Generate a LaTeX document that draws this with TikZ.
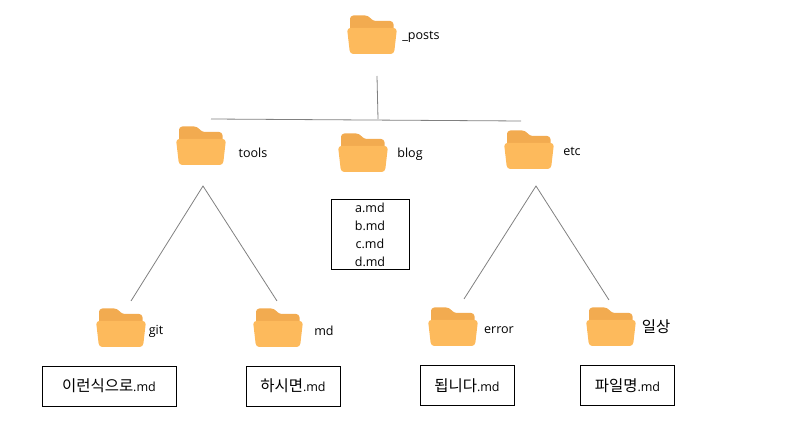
\documentclass[tikz,border=0pt]{standalone}
\usepackage{fontspec}
\setmainfont{Open Sans}
\newfontfamily\kr{Noto Sans CJK KR}
\newcommand{\krbig}{\kr\fontsize{11.6pt}{13pt}\selectfont}
\definecolor{folderback}{HTML}{F2AB50}
\definecolor{folderfront}{HTML}{FDBA5C}
\definecolor{linegrey}{HTML}{808080}
\tikzset{
  x=0.75pt,y=-0.75pt,
  link/.style={draw=linegrey,line width=0.6pt},
  lab/.style={font=\fontsize{9.4pt}{11pt}\selectfont,inner sep=0pt,text=black},
  filebox/.style={draw=black,line width=0.7pt,inner sep=0pt,font=\fontsize{9.4pt}{13.5pt}\selectfont,align=center},
  folder/.pic={
    \fill[folderback,rounded corners=2.5pt] (3,22) -- (3,0.5) -- (21.5,0.5) -- (25.5,6) -- (46.5,6) -- (46.5,22) -- cycle;
    \fill[folderfront,rounded corners=2.5pt] (0,13) -- (50,13) -- (47,39) -- (3,39) -- cycle;
  }
}
\begin{document}
\begin{tikzpicture}
\useasboundingbox (0,0) rectangle (794,445);
\pic at (347,15) {folder};
\pic at (176,126) {folder};
\pic at (338,133) {folder};
\pic at (504,130) {folder};
\pic at (96,308) {folder};
\pic at (253,308) {folder};
\pic at (428,307) {folder};
\pic at (586,307) {folder};
\node[lab,anchor=west] (posts) at (402,37) {\_posts};
\node[lab] (tools) at (253,153) {tools};
\node[lab] (blog) at (410,154) {blog};
\node[lab] (etc) at (572,151) {etc};
\node[lab] (git) at (156,331) {git};
\node[lab] (md) at (324,331) {md};
\node[lab] (error) at (499,330) {error};
\node[lab,font=\krbig] (ilsang) at (656,327) {일상};
\node[filebox,minimum width=58.5pt,minimum height=53pt] (blogbox) at (370,234.5) {a.md\\b.md\\c.md\\d.md};
\node[filebox,minimum width=100.5pt,minimum height=30pt] (f1) at (109,386) {{\krbig 이런식으로}.md};
\node[filebox,minimum width=70.5pt,minimum height=30pt] (f2) at (293,386) {{\krbig 하시면}.md};
\node[filebox,minimum width=70.5pt,minimum height=29.5pt] (f3) at (467,385.5) {{\krbig 됩니다}.md};
\node[filebox,minimum width=70pt,minimum height=29.5pt] (f4) at (627.5,385.5) {{\krbig 파일명}.md};
\coordinate (rootA) at (377,76);
\coordinate (rootB) at (378,119);
\coordinate (barL) at (211,119);
\coordinate (barR) at (521,121);
\coordinate (toolsTop) at (203,186);
\coordinate (gitEnd) at (131,301);
\coordinate (mdEnd) at (277,301);
\coordinate (etcTop) at (536,186);
\coordinate (errEnd) at (464,299);
\coordinate (ilEnd) at (609,300);
\draw[link] (rootA) -- (rootB);
\draw[link] (barL) -- (barR);
\draw[link] (gitEnd) -- (toolsTop) -- (mdEnd);
\draw[link] (errEnd) -- (etcTop) -- (ilEnd);
\end{tikzpicture}
\end{document}
